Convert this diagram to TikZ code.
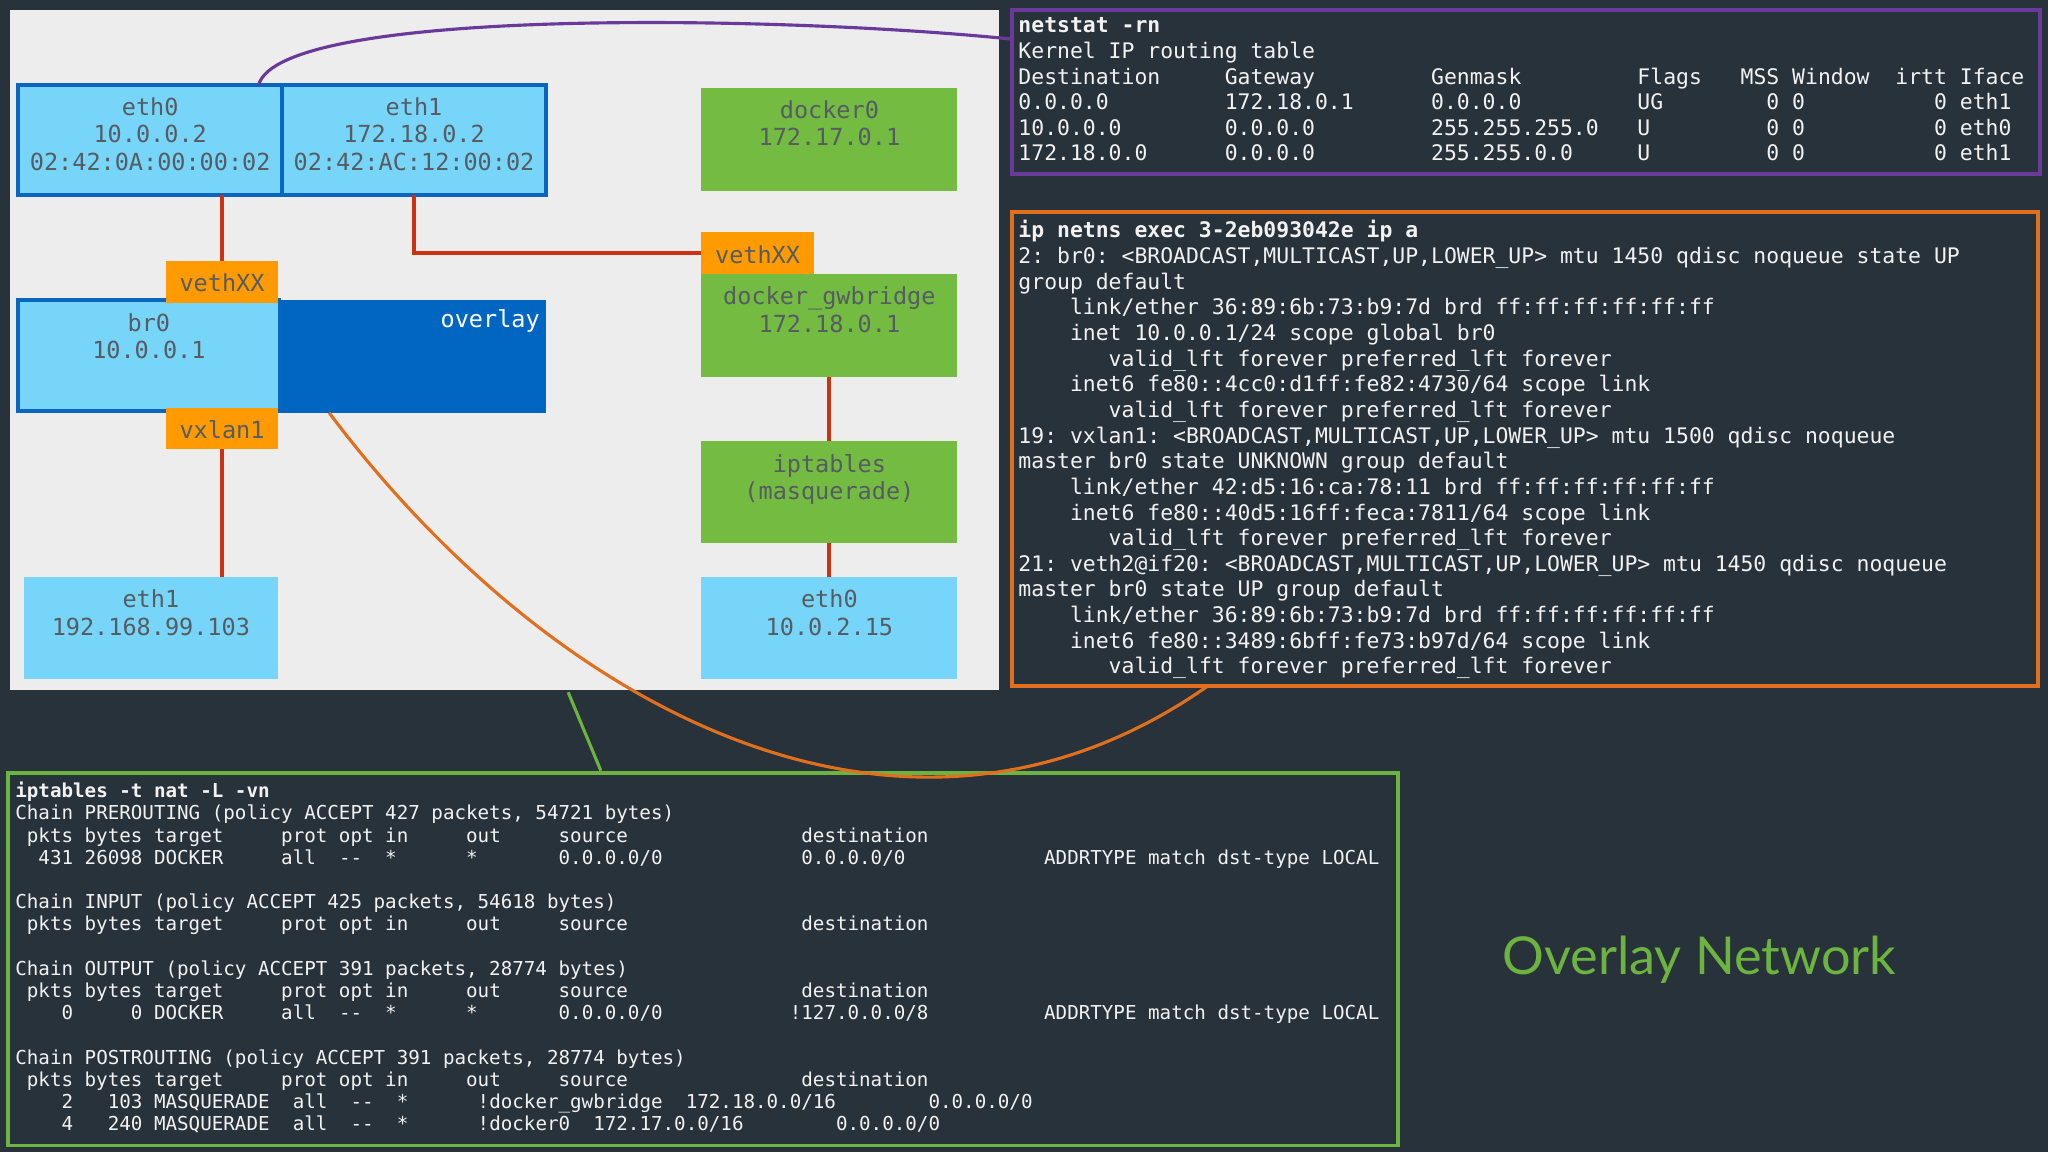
\documentclass[tikz,border=0pt]{standalone}
\usepackage{fontspec}
\setmonofont{DejaVu Sans Mono}
\setsansfont{Lato}
\usetikzlibrary{positioning}
\definecolor{bgdark}{HTML}{28323A}
\definecolor{panel}{HTML}{EEEDED}
\definecolor{ifblue}{HTML}{78D5FA}
\definecolor{ifborder}{HTML}{0A65C0}
\definecolor{ovblue}{HTML}{0066C2}
\definecolor{ifgreen}{HTML}{74BB42}
\definecolor{iforange}{HTML}{FF9A00}
\definecolor{wire}{HTML}{CC3311}
\definecolor{boxtext}{HTML}{555C62}
\definecolor{termtext}{HTML}{F2F2F2}
\definecolor{lnpurple}{HTML}{6A3A9A}
\definecolor{lnorange}{HTML}{E0701E}
\definecolor{lngreen}{HTML}{6DB33F}
\newcommand\gap[1]{\hspace*{#1\fontcharwd\font`0}}
\tikzset{every picture/.style={line width=0.75pt}}
\tikzset{
  box/.style={anchor=north west, inner sep=0pt, outer sep=0pt},
  boxlabel/.style={label={[anchor=north, inner sep=0pt, yshift=-4.5pt, align=center,
      text=boxtext, font=\ttfamily\fontsize{9}{10.5}\selectfont]north:#1}},
  term/.style={anchor=north west, inner sep=0pt, align=left, text=termtext},
  wire/.style={draw=wire, line width=1.5pt},
}
\begin{document}
\begin{tikzpicture}[x=0.5pt,y=0.5pt,yscale=-1,xscale=1]
\fill[bgdark] (0,0) rectangle (1568,882);
\useasboundingbox (0,0) rectangle (1568,882);
% diagram panel
\fill[panel] (8,8) rectangle (765,528);

% container interfaces
\node[box, fill=ifblue, draw=ifborder, line width=1.5pt, minimum width=101pt, minimum height=42pt,
  boxlabel={eth0\\10.0.0.2\\02:42:0A:00:00:02}] (eth0) at (14,65) {};
\node[box, fill=ifblue, draw=ifborder, line width=1.5pt, minimum width=101pt, minimum height=42pt,
  boxlabel={eth1\\172.18.0.2\\02:42:AC:12:00:02}] (eth1) at (216,65) {};
\node[box, fill=ovblue, minimum width=102pt, minimum height=43pt] (overlay) at (214,230) {};
\node[anchor=north east, inner sep=0pt, text=white, font=\ttfamily\fontsize{9}{10.5}\selectfont]
  (ovtext) at (414,236) {overlay};
\node[box, fill=ifblue, draw=ifborder, line width=1.5pt, minimum width=100pt, minimum height=42.5pt,
  boxlabel={br0\\10.0.0.1}] (br0) at (14,230) {};
\node[box, fill=iforange, minimum width=43pt, minimum height=16pt,
  boxlabel={vethXX}] (vethL) at (127,200) {};
\node[box, fill=iforange, minimum width=43pt, minimum height=16pt,
  boxlabel={vxlan1}] (vxlan) at (127,312) {};
\node[box, fill=ifblue, minimum width=97.5pt, minimum height=39pt,
  boxlabel={eth1\\192.168.99.103}] (ethlo) at (18,442) {};

% host side
\node[box, fill=ifgreen, minimum width=98pt, minimum height=39.5pt,
  boxlabel={docker0\\172.17.0.1}] (docker0) at (537,67) {};
\node[box, fill=iforange, minimum width=43pt, minimum height=16pt,
  boxlabel={vethXX}] (vethR) at (537,178) {};
\node[box, fill=ifgreen, minimum width=98pt, minimum height=39.5pt,
  boxlabel={docker\_gwbridge\\172.18.0.1}] (gwbridge) at (537,210) {};
\node[box, fill=ifgreen, minimum width=98pt, minimum height=39pt,
  boxlabel={iptables\\(masquerade)}] (ipt) at (537,338) {};
\node[box, fill=ifblue, minimum width=98pt, minimum height=39pt,
  boxlabel={eth0\\10.0.2.15}] (eth0r) at (537,442) {};

% wires
\draw[wire] (vethL.north) -- (vethL.north |- eth0.south);
\draw[wire] (vxlan.south) -- (vxlan.south |- ethlo.north);
\draw[wire] (eth1.south) |- (vethR.west);
\draw[wire] (gwbridge.south) -- (ipt.north);
\draw[wire] (ipt.south) -- (eth0r.north);

% terminal boxes
\node[box, draw=lnpurple, line width=1.5pt, minimum width=393.5pt, minimum height=62.5pt] (netstat) at (775,8) {};
\node[term, font=\ttfamily\fontsize{8.2}{9.8}\selectfont] (netstattxt) at (779,13) {%
\textbf{netstat -rn}\\
Kernel IP routing table\\
Destination\gap{5}Gateway\gap{9}Genmask\gap{9}Flags\gap{3}MSS Window\gap{2}irtt Iface\\
0.0.0.0\gap{9}172.18.0.1\gap{6}0.0.0.0\gap{9}UG\gap{8}0 0\gap{10}0 eth1\\
10.0.0.0\gap{8}0.0.0.0\gap{9}255.255.255.0\gap{3}U\gap{9}0 0\gap{10}0 eth0\\
172.18.0.0\gap{6}0.0.0.0\gap{9}255.255.0.0\gap{5}U\gap{9}0 0\gap{10}0 eth1};

\node[box, draw=lnorange, line width=1.5pt, minimum width=392.5pt, minimum height=181.5pt] (ipa) at (775,162) {};
\node[term, font=\ttfamily\fontsize{8.2}{9.82}\selectfont] (ipatxt) at (779,168) {%
\textbf{ip netns exec 3-2eb093042e ip a}\\
2: br0: <BROADCAST,MULTICAST,UP,LOWER\_UP> mtu 1450 qdisc noqueue state UP\\
group default\\
\gap{4}link/ether 36:89:6b:73:b9:7d brd ff:ff:ff:ff:ff:ff\\
\gap{4}inet 10.0.0.1/24 scope global br0\\
\gap{7}valid\_lft forever preferred\_lft forever\\
\gap{4}inet6 fe80::4cc0:d1ff:fe82:4730/64 scope link\\
\gap{7}valid\_lft forever preferred\_lft forever\\
19: vxlan1: <BROADCAST,MULTICAST,UP,LOWER\_UP> mtu 1500 qdisc noqueue\\
master br0 state UNKNOWN group default\\
\gap{4}link/ether 42:d5:16:ca:78:11 brd ff:ff:ff:ff:ff:ff\\
\gap{4}inet6 fe80::40d5:16ff:feca:7811/64 scope link\\
\gap{7}valid\_lft forever preferred\_lft forever\\
21: veth2@if20: <BROADCAST,MULTICAST,UP,LOWER\_UP> mtu 1450 qdisc noqueue\\
master br0 state UP group default\\
\gap{4}link/ether 36:89:6b:73:b9:7d brd ff:ff:ff:ff:ff:ff\\
\gap{4}inet6 fe80::3489:6bff:fe73:b97d/64 scope link\\
\gap{7}valid\_lft forever preferred\_lft forever};

\node[box, draw=lngreen, line width=1.5pt, minimum width=532pt, minimum height=142.5pt] (natbox) at (6,592) {};
\node[term, font=\ttfamily\fontsize{7.35}{8.5}\selectfont] (nattxt) at (11,598) {%
\textbf{iptables -t nat -L -vn}\\
Chain PREROUTING (policy ACCEPT 427 packets, 54721 bytes)\\
\gap{1}pkts bytes target\gap{5}prot opt in\gap{5}out\gap{5}source\gap{15}destination\\
\gap{2}431 26098 DOCKER\gap{5}all\gap{2}--\gap{2}*\gap{6}*\gap{7}0.0.0.0/0\gap{12}0.0.0.0/0\gap{12}ADDRTYPE match dst-type LOCAL\\
\mbox{}\\
Chain INPUT (policy ACCEPT 425 packets, 54618 bytes)\\
\gap{1}pkts bytes target\gap{5}prot opt in\gap{5}out\gap{5}source\gap{15}destination\\
\mbox{}\\
Chain OUTPUT (policy ACCEPT 391 packets, 28774 bytes)\\
\gap{1}pkts bytes target\gap{5}prot opt in\gap{5}out\gap{5}source\gap{15}destination\\
\gap{4}0\gap{5}0 DOCKER\gap{5}all\gap{2}--\gap{2}*\gap{6}*\gap{7}0.0.0.0/0\gap{11}!127.0.0.0/8\gap{10}ADDRTYPE match dst-type LOCAL\\
\mbox{}\\
Chain POSTROUTING (policy ACCEPT 391 packets, 28774 bytes)\\
\gap{1}pkts bytes target\gap{5}prot opt in\gap{5}out\gap{5}source\gap{15}destination\\
\gap{4}2\gap{3}103 MASQUERADE\gap{2}all\gap{2}--\gap{2}*\gap{6}!docker\_gwbridge\gap{2}172.18.0.0/16\gap{8}0.0.0.0/0\\
\gap{4}4\gap{3}240 MASQUERADE\gap{2}all\gap{2}--\gap{2}*\gap{6}!docker0\gap{2}172.17.0.0/16\gap{8}0.0.0.0/0};

% callout lines
\coordinate (pa) at (198,65);
\coordinate (pb) at (252,316);
\coordinate (pc) at (435,530);
\coordinate (pd) at (925,525);
\coordinate (pe) at (460,590);
\draw[lnpurple, line width=1.2pt] (pa) .. controls (215,5) and (600,12) .. (netstat.west |- 0,30);
\draw[lnorange, line width=1.2pt] (pb) .. controls (420,540) and (690,690) .. (pd);
\draw[lngreen, line width=1.2pt] (pc) -- (pe);

% title
\node[text=lngreen, font=\sffamily\fontsize{20}{24}\selectfont] (title) at (1301,735) {Overlay Network};
\end{tikzpicture}
\end{document}
